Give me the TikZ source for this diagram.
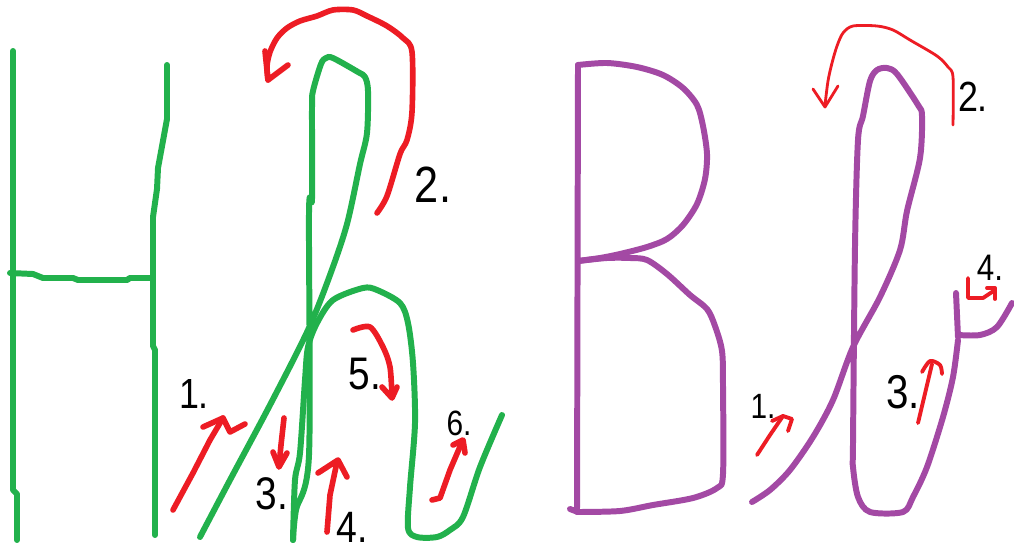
\documentclass[tikz,border=0pt]{standalone}
\usepackage{fontspec}
\setmainfont{Liberation Sans}[FakeStretch=0.85]
\definecolor{gr}{HTML}{22B14C}
\definecolor{rd}{HTML}{ED1C24}
\definecolor{pu}{HTML}{A349A4}
\tikzset{
  base/.style={line cap=round, line join=round},
  gline/.style={base, line width=3.4pt, draw=gr},
  pline/.style={base, line width=3.4pt, draw=pu},
  rthick/.style={base, line width=3.2pt, draw=rd},
  rthin/.style={base, line width=1.6pt, draw=rd},
  lab/.style={inner sep=0pt, text=black, font=\fontsize{#1}{#1}\selectfont},
}
\begin{document}
\begin{tikzpicture}[x=0.02cm, y=-0.02cm]
\useasboundingbox[fill=white] (0,0) rectangle (1014,551);
% ---------- green H ----------
\draw[gline] (13,51) -- (13,490) -- (17,494) -- (17,540);
\draw[gline] (167,65) -- (167,119) -- (158,168) -- (157,189) -- (153,217) -- (153,346) -- (155,350) -- (155,535);
\draw[gline] (10,273) -- (33,274) -- (43,278) -- (73,278) -- (78,280) -- (127,280) -- (130,278) -- (150,278);
% ---------- green second letter ----------
\draw[gline] plot[smooth, tension=0.5] coordinates {(200,537) (230,480) (270,405) (308,330) (330,275) (347,224) (360,164) (367,133) (368,91) (365,77) (358,72) (333,58) (326,58) (321,64) (313,91) (312,108) (312,199) (309,213) (309,455) (296,510) (293,540)};
\draw[gline] plot[smooth, tension=0.5] coordinates {(293,540) (295,480) (300,453) (305,380) (308,347) (317,323) (333,300) (363,288) (377,290) (400,303) (408,323) (413,363) (415,423) (410,487) (408,528) (417,537) (437,537) (450,530) (463,517) (480,467) (502,415)};
% ---------- red arrows, left ----------
\draw[rthick] plot[smooth, tension=0.5] coordinates {(377,213) (387,196) (400,154) (407,140) (412,112) (412,52) (403,38) (387,26) (367,16) (353,10) (333,10) (317,16) (300,21) (287,28) (277,38) (270,52) (267,66) (268,80)};
\draw[rthick] (265,51) -- (268,80) -- (288,65);
\draw[rthick] (173,510) -- (193,473) -- (210,440) -- (223,418);
\draw[rthick] (203,427) -- (223,418) -- (230,432) -- (245,424);
\draw[rthick] (284,418) -- (281,445) -- (279,466);
\draw[rthick] (273,452) -- (279,467) -- (287,453);
\draw[rthick] (327,532) -- (330,495) -- (337,462);
\draw[rthick] (318,473) -- (338,460) -- (347,477);
\draw[rthick] plot[smooth, tension=0.5] coordinates {(353,330) (370,327) (383,347) (390,367) (392,397)};
\draw[rthick] (382,387) -- (392,398) -- (397,387);
\draw[rthick] (432,500) -- (440,498) -- (450,470) -- (462,442);
\draw[rthick] (453,445) -- (463,440) -- (465,453);
% ---------- labels, left ----------
\node[lab=24] (l1) at (194,394) {1.};
\node[lab=29] (l2) at (433,185) {2.};
\node[lab=26] (l3) at (272,494) {3.};
\node[lab=25] (l4) at (352,527) {4.};
\node[lab=26] (l5) at (365,374) {5.};
\node[lab=20] (l6) at (459,423) {6.};
% ---------- purple B ----------
\draw[pline] (578,65) -- (577,510);
\draw[pline] (570,509) -- (578,512);
\draw[pline] plot[smooth, tension=0.5] coordinates {(578,65) (607,63) (637,67) (663,75) (683,88) (697,105) (703,126) (707,154) (705,179) (697,204) (683,225) (667,239) (647,247) (620,254) (600,258) (578,261)};
\draw[pline] plot[smooth, tension=0.5] coordinates {(578,261) (607,258) (630,258) (647,260) (667,274) (690,295) (707,309) (715,326) (722,351) (723,386) (723,474) (717,488) (693,498) (653,505) (620,511) (577,512)};
% ---------- purple second letter ----------
\draw[pline] plot[smooth, tension=0.5] coordinates {(752,502) (770,490) (790,470) (813,437) (833,400) (853,347) (880,297) (900,250) (907,211) (920,158) (922,116) (918,105) (897,74) (887,68) (877,70) (870,81) (863,116) (858,140) (855,246) (853,443) (853,467) (858,497) (870,512) (903,512) (913,497) (927,467) (943,417) (953,377) (958,340)};
\draw[pline] (956,293) -- (958,337);
\draw[pline] plot[smooth, tension=0.5] coordinates {(958,335) (980,335) (997,327) (1012,303)};
% ---------- red arrows, right ----------
\draw[rthin] plot[smooth, tension=0.5] coordinates {(953,125) (953,77) (948,67) (937,56) (910,40) (893,30) (877,26) (853,26) (843,33) (837,46) (832,63) (828,81) (825,105)};
\draw[rthin] (813,89) -- (825,107) -- (838,86);
\draw[rthick, line width=2.2pt] (757,455) -- (770,435) -- (783,416);
\draw[rthick, line width=2.2pt] (772,421) -- (783,416) -- (792,419) -- (788,431);
\draw[rthick, line width=2.2pt] (918,423) -- (932,364);
\draw[rthick, line width=2.2pt] plot[smooth, tension=0.5] coordinates {(922,372) (930,361) (940,365) (942,374)};
\draw[rthick, line width=2.2pt] (968,278) -- (968,298) -- (983,298) -- (995,290);
\draw[rthick, line width=2.2pt] (987,288) -- (995,288) -- (995,299);
% ---------- labels, right ----------
\node[lab=20] (r1) at (763,406) {1.};
\node[lab=24] (r2) at (973,97) {2.};
\node[lab=27] (r3) at (903,392) {3.};
\node[lab=21] (r4) at (990,268) {4.};
\end{tikzpicture}
\end{document}
